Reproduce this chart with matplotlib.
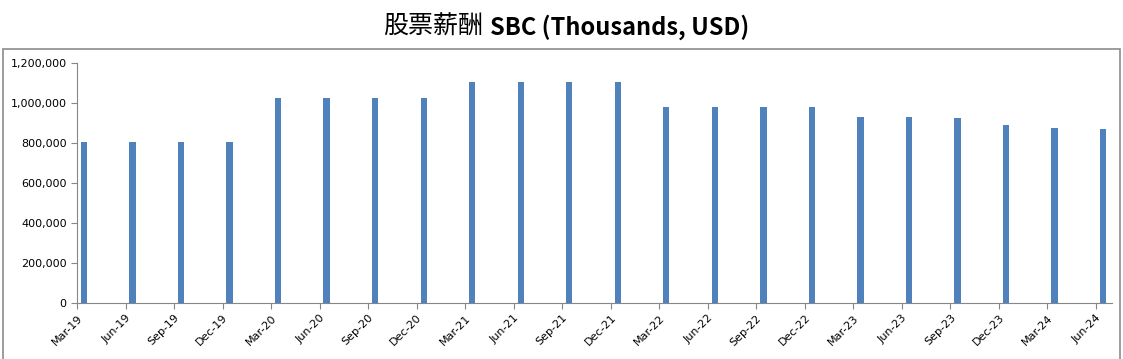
import matplotlib
matplotlib.use("Agg")
import matplotlib.pyplot as plt
from matplotlib.patches import Rectangle
from matplotlib.ticker import FuncFormatter
import numpy as np

quarters = [
    "Mar-19", "Jun-19", "Sep-19", "Dec-19",
    "Mar-20", "Jun-20", "Sep-20", "Dec-20",
    "Mar-21", "Jun-21", "Sep-21", "Dec-21",
    "Mar-22", "Jun-22", "Sep-22", "Dec-22",
    "Mar-23", "Jun-23", "Sep-23", "Dec-23",
    "Mar-24", "Jun-24",
]
sbc = [
    807000, 807000, 807000, 807000,
    1027000, 1027000, 1027000, 1027000,
    1105000, 1105000, 1105000, 1105000,
    982000, 982000, 982000, 982000,
    930000, 930000, 925000, 890000,
    875000, 870000,
]

plt.rcParams["font.family"] = ["Noto Sans CJK SC", "DejaVu Sans"]

W, H = 1123, 359
fig = plt.figure(figsize=(W / 100, H / 100), dpi=100)

# 外框
fig.patches.append(Rectangle((3 / W, -0.1), 1117 / W, 1.1 - 49 / H,
                             transform=fig.transFigure, fill=False,
                             edgecolor="#8c8c8c", linewidth=1.2))

ax = fig.add_axes([77 / W, 1 - 303 / H, (1112 - 77) / W, (303 - 63) / H])

x = np.arange(len(quarters))
ax.bar(x + 0.145, sbc, width=0.13, color="#4F81BD", align="center")

ax.set_xlim(0, 21.33)
ax.set_ylim(0, 1200000)
ax.set_yticks(np.arange(0, 1200001, 200000))
ax.yaxis.set_major_formatter(FuncFormatter(lambda v, p: f"{int(v):,}"))
ax.set_xticks(x)
ax.set_xticklabels(quarters, rotation=45, ha="right", rotation_mode="anchor",
                   family=["DejaVu Sans"], fontsize=8)
for lab in ax.get_yticklabels():
    lab.set_family(["DejaVu Sans"])
    lab.set_fontsize(8)

for s in ("top", "right"):
    ax.spines[s].set_visible(False)
for s in ("left", "bottom"):
    ax.spines[s].set_color("#868686")
ax.tick_params(axis="both", colors="#868686", length=4, labelcolor="black")
ax.tick_params(axis="x", pad=3)

fig.text(483 / W, 1 - 27 / H, "股票薪酬", ha="right", va="center", fontsize=18)
fig.text(490 / W, 1 - 27 / H, "SBC (Thousands, USD)", ha="left", va="center",
         fontsize=17, fontweight="bold")

fig.savefig("out.png", dpi=100)
